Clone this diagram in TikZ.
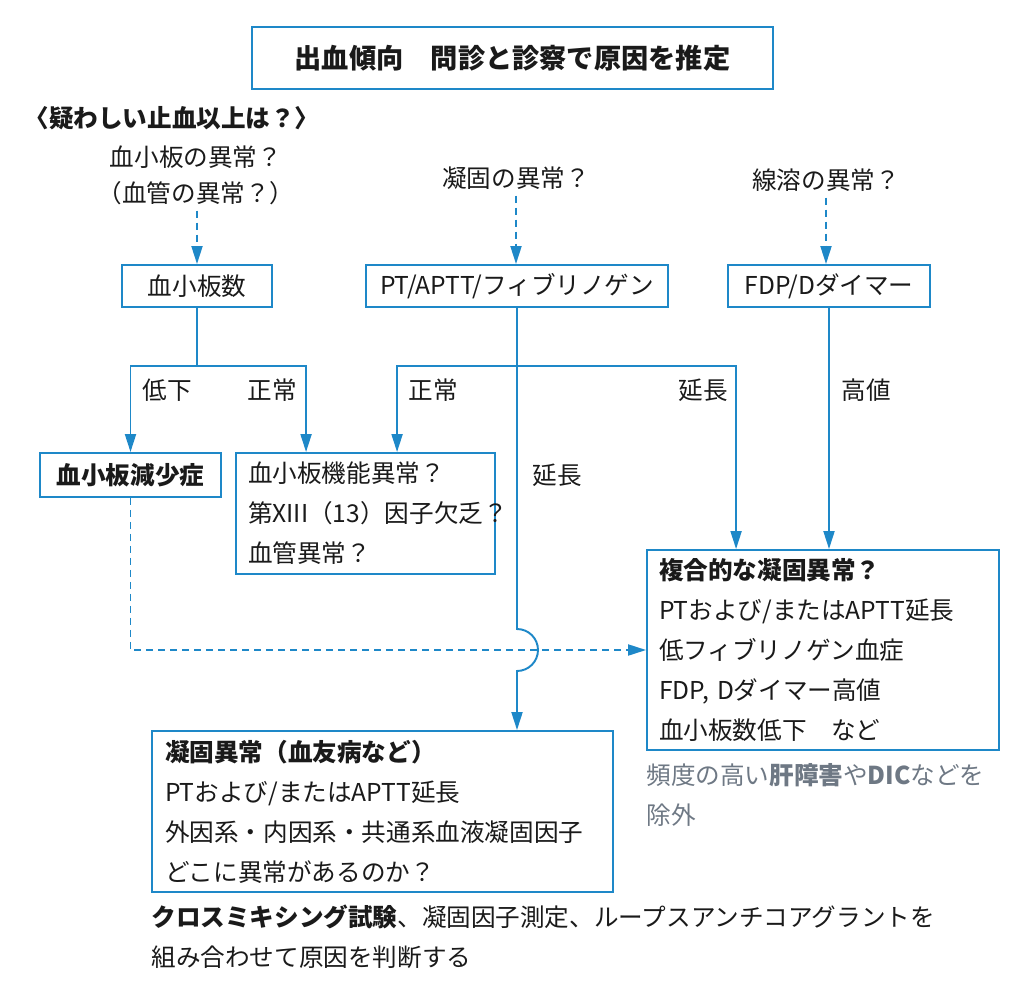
\documentclass[tikz,border=0pt]{standalone}
\usepackage{fontspec}
\setmainfont{Noto Sans CJK JP}
\usetikzlibrary{arrows.meta, calc, positioning}
\definecolor{fblue}{HTML}{1E88C8}
\definecolor{ink}{HTML}{1A1A1A}
\definecolor{note}{HTML}{6E7884}
\newcommand\fsbody{\fontsize{14pt}{22.8pt}\selectfont}
\newcommand\fstitle{\fontsize{15.5pt}{18pt}\selectfont\bfseries}
\tikzset{el/.style={line cap=butt, line join=miter}}

\begin{document}
\begin{tikzpicture}[el, x=0.02cm, y=-0.02cm,
     txt/.style={font=\fsbody, text=ink},
     box/.style={draw=fblue, line width=1.1pt, fill=white, font=\fsbody, text=ink},
     tbox/.style={box, align=left, inner xsep=0.24cm},
     ln/.style={draw=fblue, line width=1.1pt},
     ar/.style={ln, -{Triangle[length=3.6mm, width=2.2mm]}},
     dar/.style={ar, dash pattern=on 0.14cm off 0.1cm}]
     \useasboundingbox (0,0) rectangle (1034,993);
     % title and questions
     \node[box, font=\fstitle, minimum width=10.42cm, minimum height=1.24cm] (title) at (512.5,58) {出血傾向　問診と診察で原因を推定};
     \node[txt, font=\fsbody\bfseries] (suspect) at (172,118) {〈疑わしい止血以上は？〉};
     \node[txt, align=center, font=\fontsize{14pt}{20.5pt}\selectfont] (pltq) at (196,175) {血小板の異常？\\（血管の異常？）};
     \node[txt] (coagq) at (516,178) {凝固の異常？};
     \node[txt] (fibq) at (826,180) {線溶の異常？};
     % tests
     \node[box, minimum width=3cm, minimum height=0.84cm] (plt) at (197,286) {血小板数};
     \node[box, minimum width=6.04cm, minimum height=0.84cm] (pt) at (517,286) {PT/APTT/フィブリノゲン};
     \node[box, minimum width=4.04cm, minimum height=0.84cm] (fdp) at (829,286) {FDP/Dダイマー};
     % results
     \node[box, font=\fsbody\bfseries, minimum width=3.62cm, minimum height=0.88cm] (thr) at (130.5,475) {血小板減少症};
     \node[tbox, text width=4.7cm, minimum height=2.42cm] (func) at (365.5,513.5) {血小板機能異常？\\第XIII（13）因子欠乏？\\血管異常？};
     \node[tbox, text width=6.56cm, minimum height=4cm] (comp) at (823,650) {\textbf{複合的な凝固異常？}\\PTおよび/またはAPTT延長\\低フィブリノゲン血症\\FDP, Dダイマー高値\\血小板数低下　など};
     \node[tbox, inner xsep=0.26cm, text width=8.7cm, minimum height=3.22cm] (coag) at (382.5,811.5) {\textbf{凝固異常（血友病など）}\\PTおよび/またはAPTT延長\\外因系・内因系・共通系血液凝固因子\\どこに異常があるのか？};
     \node[txt, text=note, align=left, inner sep=0pt, below right=0.24cm and 0cm of comp.south west] (exclude) {頻度の高い\textbf{肝障害}や\textbf{DIC}などを\\除外};
     \node[txt, align=left, inner sep=0pt, below right=0.24cm and 0cm of coag.south west] (judge) {\textbf{クロスミキシング試験}、凝固因子測定、ループスアンチコアグラントを\\組み合わせて原因を判断する};
     % branch labels
     \node[txt] (low) at (167,390) {低下};
     \node[txt] (norm) at (272,390) {正常};
     \node[txt] (norm2) at (433,390) {正常};
     \node[txt] (prolong) at (703,390) {延長};
     \node[txt] (prolong2) at (557,475) {延長};
     \node[txt] (high) at (866,390) {高値};
     % connectors
     \draw[dar] (plt.north |- pltq.south) -- (plt.north);
     \draw[dar] (coagq.south) -- (coagq.south |- pt.north);
     \draw[dar] (fibq.south) -- (fibq.south |- fdp.north);
     \coordinate (pltsplit) at ($(plt.south)+(0,58)$);
     \draw[ln] (plt.south) -- (pltsplit);
     \draw[ar] (pltsplit) -| (thr.north);
     \draw[ar] (pltsplit) -| ($(func.north west)+(71,0)$);
     \coordinate (ptsplit) at ($(pt.south)+(0,58)$);
     \draw[ar] (ptsplit) -| ($(func.north west)+(162,0)$);
     \draw[ar] (ptsplit) -| ($(comp.north west)+(90,0)$);
     \draw[ar] (fdp.south) -- (fdp.south |- comp.north);
     \draw[dar] (thr.south) |- (comp.west);
     \coordinate (hop) at (pt.south |- comp.west);
     \draw[ar] (pt.south) -- ($(hop)+(0,-21)$) arc[start angle=90, end angle=-90, radius=0.42cm] -- (pt.south |- coag.north);
  \end{tikzpicture}
\end{document}
